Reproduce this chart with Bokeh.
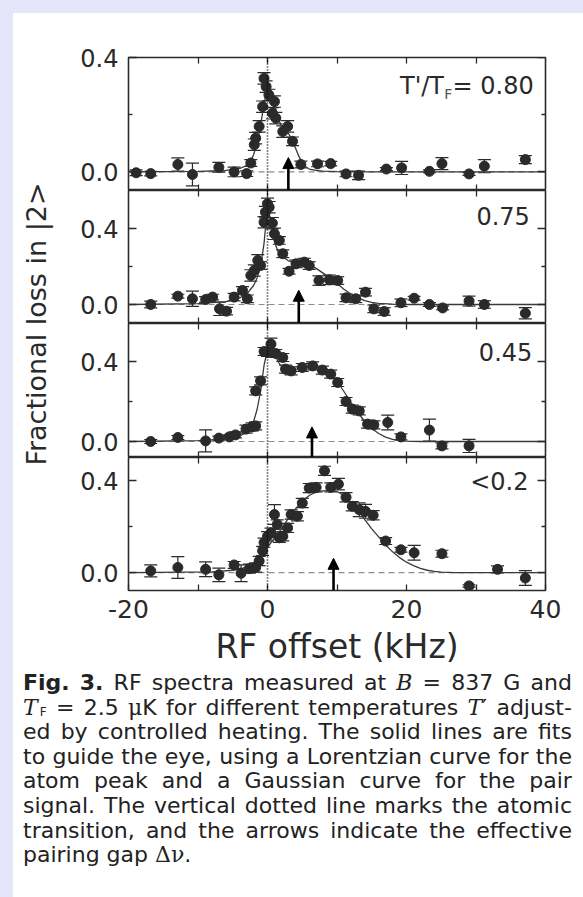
from bokeh.plotting import figure
from bokeh.layouts import column, row
from bokeh.models import (ColumnDataSource, Range1d, LinearAxis, FixedTicker,
                          PrintfTickFormatter, Whisker, TeeHead, Span, Arrow,
                          NormalHead, Label, Div)
from bokeh.embed import file_html
from bokeh.resources import INLINE

FONT = "DejaVu Sans"
INK = "#2a2a2a"

# ---------------------------------------------------------------- data
# RF offset in kHz, fractional loss in |2>, and one-sigma error
p1_x = [-18.9, -16.8, -12.9, -10.8, -7.0, -4.8, -3.0, -2.4, -1.9, -1.7, -1.2, -0.7,
        -0.5, -0.2, 0.2, 0.7, 1.0, 1.2, 2.2, 2.9, 3.6, 4.8, 7.2, 9.1, 11.3, 13.1,
        17.1, 19.3, 23.3, 25.1, 29.0, 31.2, 37.1]
p1_y = [-0.003, -0.006, 0.026, -0.009, 0.016, 0.0, -0.006, 0.031, 0.095, 0.118, 0.159,
        0.228, 0.327, 0.298, 0.269, 0.205, 0.246, 0.188, 0.141, 0.159, 0.107, 0.026,
        0.028, 0.029, -0.007, -0.012, 0.01, 0.014, 0.002, 0.029, -0.007, 0.02, 0.043]
p1_err = [0.01, 0.008, 0.023, 0.04, 0.017, 0.017, 0.01, 0.012, 0.02, 0.02, 0.02, 0.02,
          0.02, 0.02, 0.02, 0.02, 0.02, 0.02, 0.02, 0.02, 0.015, 0.012, 0.01, 0.008,
          0.01, 0.015, 0.005, 0.023, 0.005, 0.021, 0.005, 0.023, 0.014]

p2_x = [-16.8, -12.9, -10.8, -8.9, -7.9, -6.9, -5.9, -4.8, -3.6, -2.9, -2.4, -1.9, -1.4,
        -1.0, -0.5, -0.3, 0.0, 0.24, 0.7, 1.0, 1.7, 2.2, 3.1, 4.1, 5.3, 6.0, 7.4, 8.9,
        10.1, 11.3, 12.7, 14.1, 15.3, 16.8, 19.2, 21.1, 23.3, 25.2, 29.0, 31.2, 37.1]
p2_y = [0.0, 0.044, 0.03, 0.026, 0.039, -0.023, -0.035, 0.039, 0.074, 0.03, 0.153, 0.179,
        0.232, 0.205, 0.433, 0.486, 0.53, 0.512, 0.428, 0.372, 0.337, 0.267, 0.175, 0.214,
        0.223, 0.205, 0.126, 0.13, 0.126, 0.035, 0.03, 0.065, -0.023, -0.037, 0.009,
        0.033, 0.0, -0.018, 0.018, 0.0, -0.046]
p2_err = [0.018, 0.01, 0.04, 0.015, 0.015, 0.035, 0.02, 0.02, 0.02, 0.02, 0.03, 0.03,
          0.03, 0.02, 0.03, 0.03, 0.03, 0.03, 0.03, 0.03, 0.02, 0.02, 0.015, 0.02,
          0.02, 0.02, 0.025, 0.025, 0.02, 0.02, 0.02, 0.02, 0.02, 0.02, 0.02, 0.01,
          0.01, 0.01, 0.026, 0.02, 0.03]

p3_x = [-16.8, -12.9, -8.9, -7.0, -5.5, -4.6, -3.1, -2.2, -1.7, -1.7, -1.0, -0.5, 0.0,
        0.5, 1.2, 2.2, 2.6, 3.4, 5.0, 6.5, 7.9, 9.1, 10.1, 11.3, 12.2, 13.2, 14.4, 15.3,
        17.3, 19.2, 23.3, 25.1, 29.0]
p3_y = [0.0, 0.02, 0.003, 0.017, 0.023, 0.033, 0.062, 0.073, 0.078, 0.253, 0.303, 0.45,
        0.445, 0.487, 0.44, 0.42, 0.362, 0.353, 0.37, 0.378, 0.357, 0.337, 0.295, 0.2,
        0.162, 0.153, 0.087, 0.083, 0.095, 0.023, 0.057, -0.022, -0.022]
p3_err = [0.01, 0.01, 0.055, 0.01, 0.01, 0.015, 0.02, 0.02, 0.02, 0.02, 0.02, 0.02, 0.02,
          0.03, 0.02, 0.02, 0.02, 0.02, 0.02, 0.02, 0.02, 0.02, 0.02, 0.02, 0.02, 0.02,
          0.02, 0.02, 0.037, 0.015, 0.055, 0.015, 0.033]

p4_x = [-16.8, -12.9, -8.9, -7.0, -4.8, -3.8, -2.6, -1.7, -1.2, -0.7, -0.5, 0.0, 0.5,
        1.0, 1.4, 1.7, 2.2, 2.9, 3.4, 4.3, 5.0, 6.0, 7.0, 8.2, 9.1, 10.2, 11.3, 12.2,
        13.2, 14.1, 15.2, 17.0, 19.2, 21.1, 25.1, 29.0, 33.1, 37.1]
p4_y = [0.007, 0.022, 0.014, -0.01, 0.033, -0.003, 0.017, 0.022, 0.05, 0.094, 0.13,
        0.158, 0.173, 0.252, 0.209, 0.151, 0.158, 0.194, 0.252, 0.245, 0.302, 0.367,
        0.37, 0.442, 0.37, 0.384, 0.327, 0.288, 0.273, 0.266, 0.249, 0.137, 0.099,
        0.086, 0.082, -0.058, 0.014, -0.024]
p4_err = [0.026, 0.047, 0.032, 0.029, 0.015, 0.036, 0.02, 0.02, 0.02, 0.02, 0.02, 0.02,
          0.02, 0.043, 0.02, 0.02, 0.02, 0.02, 0.02, 0.02, 0.02, 0.02, 0.02, 0.02, 0.02,
          0.025, 0.02, 0.02, 0.03, 0.03, 0.02, 0.015, 0.01, 0.032, 0.015, 0.005, 0.015,
          0.032]

# fitted curves (Lorentzian atom peak + Gaussian pair signal)
fit1_x = [-20, -10, -6, -4, -3, -2.5, -2, -1.5, -1, -0.5, 0, 0.3, 0.6, 1, 1.5, 2, 2.5,
          3, 3.5, 4, 4.5, 5, 5.5, 6, 7, 8, 10, 15, 40]
fit1_y = [0, 0.002, 0.005, 0.012, 0.022, 0.035, 0.06, 0.1, 0.16, 0.24, 0.29, 0.295,
          0.28, 0.24, 0.19, 0.16, 0.145, 0.135, 0.115, 0.085, 0.055, 0.032, 0.018, 0.01,
          0.005, 0.003, 0.001, 0, 0]

fit2_x = [-20, -10, -6, -4, -3, -2, -1.5, -1, -0.5, -0.2, 0, 0.2, 0.5, 1, 1.5, 2, 3, 4,
          5, 6, 7, 8, 9, 10, 11, 12, 13, 14, 15, 16, 18, 20, 40]
fit2_y = [0.0, 0.005, 0.015, 0.035, 0.055, 0.1, 0.14, 0.2, 0.32, 0.44, 0.5, 0.49, 0.42,
          0.33, 0.28, 0.255, 0.23, 0.22, 0.215, 0.21, 0.19, 0.165, 0.14, 0.11, 0.08,
          0.055, 0.035, 0.02, 0.011, 0.006, 0.002, 0.0, 0.0]

fit3_x = [-20, -10, -6, -4, -3, -2, -1.5, -1, -0.5, 0, 0.3, 0.6, 1, 1.5, 2, 2.5, 3, 4,
          5, 6, 7, 8, 9, 10, 11, 12, 13, 14, 15, 16, 17, 18, 19, 20, 22, 40]
fit3_y = [0, 0.004, 0.012, 0.028, 0.045, 0.1, 0.16, 0.25, 0.38, 0.46, 0.48, 0.47, 0.44,
          0.4, 0.375, 0.362, 0.357, 0.36, 0.37, 0.376, 0.376, 0.365, 0.34, 0.3, 0.25,
          0.195, 0.145, 0.1, 0.065, 0.04, 0.022, 0.011, 0.005, 0.002, 0, 0]

fit4_x = [-20, -8, -5, -4, -3, -2, -1, 0, 1, 2, 3, 4, 5, 6, 7, 8, 9, 10, 11, 12, 13, 14,
          15, 16, 17, 18, 19, 20, 21, 22, 23, 24, 25, 27, 40]
fit4_y = [0, 0.003, 0.01, 0.015, 0.025, 0.042, 0.07, 0.11, 0.15, 0.19, 0.235, 0.275,
          0.31, 0.335, 0.35, 0.355, 0.356, 0.352, 0.335, 0.305, 0.27, 0.23, 0.19, 0.155,
          0.12, 0.09, 0.065, 0.045, 0.03, 0.018, 0.01, 0.005, 0.002, 0, 0]

# effective pairing gap (kHz) marked by the arrows, and the arrow tip height
gap_khz = [3.0, 4.5, 6.4, 9.5]
gap_tip = [0.05, 0.075, 0.073, 0.062]

temp_labels = ["0.80", "0.75", "0.45", "<0.2"]
x_ticks = [-20, 0, 20, 40]
x_minor = [-10, 10, 30]
y_ticks = [0.0, 0.4]
y_minor = [0.2]

# ------------------------------------------------------------ panels
# (y start, y end, figure height, top border, bottom border)
panels = [
    (-0.065, 0.40, 177, 44, 0),
    (-0.10, 0.60, 133, 0, 0),
    (-0.08, 0.59, 134, 0, 0),
    (-0.078, 0.50, 213, 0, 80),
]
series = [
    (p1_x, p1_y, p1_err, fit1_x, fit1_y),
    (p2_x, p2_y, p2_err, fit2_x, fit2_y),
    (p3_x, p3_y, p3_err, fit3_x, fit3_y),
    (p4_x, p4_y, p4_err, fit4_x, fit4_y),
]
# right-aligned label anchor (data x, data y of the text baseline) in each panel
label_pos = [(38.3, 0.300), (37.75, 0.465), (38.1, 0.447), (37.55, 0.392)]

x_range = Range1d(-20, 40)


def tick_axis(ticks, length, loc):
    """Inward tick marks without labels, pinned to a frame edge."""
    return LinearAxis(ticker=FixedTicker(ticks=[], minor_ticks=ticks),
                      fixed_location=loc, axis_line_color=None,
                      major_tick_in=0, major_tick_out=0,
                      minor_tick_in=length, minor_tick_out=0,
                      minor_tick_line_color=INK, minor_tick_line_width=1.3)


def text_label(x, y, text, size, color=INK):
    return Label(x=x, y=y, text=text, text_align="right", text_baseline="alphabetic",
                 text_font=FONT, text_font_size=size, text_color=color)


figs = []
for i, ((y0, y1, h, bt, bb), (xs, ys, es, fx, fy)) in enumerate(zip(panels, series)):
    p = figure(width=523, height=h, x_range=x_range, y_range=Range1d(y0, y1),
               output_backend="svg", toolbar_location=None,
               x_axis_location=None, y_axis_location=None,
               min_border_left=68, min_border_right=38,
               min_border_top=bt, min_border_bottom=bb,
               background_fill_color="white", border_fill_color="white")
    p.grid.visible = False
    p.outline_line_color = INK
    p.outline_line_width = 1.6

    # y axis with labels on the left
    ya = LinearAxis(ticker=FixedTicker(ticks=y_ticks, minor_ticks=y_minor),
                    formatter=PrintfTickFormatter(format="%.1f"),
                    axis_line_color=None,
                    major_tick_in=8, major_tick_out=0, minor_tick_in=4, minor_tick_out=0,
                    major_tick_line_color=INK, minor_tick_line_color=INK,
                    major_tick_line_width=1.3, minor_tick_line_width=1.3,
                    major_label_standoff=10, major_label_text_font=FONT,
                    major_label_text_font_size="24px", major_label_text_color=INK)
    p.add_layout(ya, "left")
    p.add_layout(tick_axis(y_ticks, 8, 40), "right")
    p.add_layout(tick_axis(y_minor, 4, 40), "right")
    p.add_layout(tick_axis(x_ticks[1:-1] + x_minor, 6, y1), "above")

    if i < 3:
        p.add_layout(tick_axis(x_ticks[1:-1] + x_minor, 6, y0), "below")
    else:
        xa = LinearAxis(ticker=FixedTicker(ticks=x_ticks, minor_ticks=x_minor),
                        formatter=PrintfTickFormatter(format="%d"),
                        axis_line_color=None,
                        major_tick_in=6, major_tick_out=0, minor_tick_in=6, minor_tick_out=0,
                        major_tick_line_color=INK, minor_tick_line_color=INK,
                        major_tick_line_width=1.3, minor_tick_line_width=1.3,
                        major_label_standoff=9, major_label_text_font=FONT,
                        major_label_text_font_size="25px", major_label_text_color=INK,
                        axis_label="RF offset (kHz)", axis_label_text_font=FONT,
                        axis_label_text_font_size="33px", axis_label_text_font_style="normal",
                        axis_label_text_color=INK, axis_label_standoff=6)
        p.add_layout(xa, "below")

    # zero baseline and atomic transition
    p.add_layout(Span(location=0, dimension="width", line_color="#8c8c8c",
                      line_dash="6 4", line_width=1.2, level="underlay"))
    p.add_layout(Span(location=0, dimension="height", line_color="black",
                      line_dash="1 2", line_width=1.6))

    p.line(fx, fy, line_color="#3a3a3a", line_width=1.3)

    src = ColumnDataSource(dict(x=xs, y=ys,
                                lo=[a - b for a, b in zip(ys, es)],
                                up=[a + b for a, b in zip(ys, es)]))
    p.add_layout(Whisker(source=src, base="x", lower="lo", upper="up",
                         line_color=INK, line_width=1.2,
                         lower_head=TeeHead(size=13, line_color=INK, line_width=1.2),
                         upper_head=TeeHead(size=13, line_color=INK, line_width=1.2)))
    p.scatter("x", "y", source=src, size=10, fill_color=INK, line_color=INK)

    p.add_layout(Arrow(x_start=gap_khz[i], y_start=y0, x_end=gap_khz[i], y_end=gap_tip[i],
                       line_color="black", line_width=2.6,
                       end=NormalHead(size=11, fill_color="black", line_color="black",
                                      line_width=1)))

    lx, ly = label_pos[i]
    if i == 0:
        p.add_layout(text_label(lx, ly, "= " + temp_labels[0], "24px"))
        p.add_layout(text_label(lx - 11.7, ly - 0.028, "F", "14px", "#555555"))
        p.add_layout(text_label(lx - 12.9, ly, "T'/T", "24px"))
    else:
        p.add_layout(text_label(lx, ly, temp_labels[i], "24px"))
    figs.append(p)

total_h = sum(pp[2] for pp in panels)

# vertical axis title spanning the panel stack
yt = figure(width=47, height=total_h, x_range=Range1d(0, 47), y_range=Range1d(0, total_h),
            output_backend="svg", toolbar_location=None,
            x_axis_location=None, y_axis_location=None, min_border=0,
            outline_line_color=None, border_fill_color="white",
            background_fill_color="white")
yt.grid.visible = False
yt.add_layout(Label(x=23, y=total_h - 310.5, text="Fractional loss in |2>", angle=90,
                    angle_units="deg", text_align="center", text_baseline="middle",
                    text_font=FONT, text_font_size="27px", text_color=INK))

# ------------------------------------------------------------ caption
SERIF_I = '<i style="font-family:\'DejaVu Serif\'">{}</i>'
caption_lines = [
    ["<b>Fig.</b>", "<b>3.</b>", "RF", "spectra", "measured", "at", SERIF_I.format("B"),
     "=", "837", "G", "and"],
    [SERIF_I.format("T")
     + '<span style="font-size:12px;line-height:0;position:relative;top:1px;'
       'margin-left:2px">F</span>',
     "=", "2.5", '<span style="font-family:\'DejaVu Serif\'">\u03bc</span>K', "for",
     "different", "temperatures", SERIF_I.format("T") + "\u2032", "adjust-"],
    ["ed", "by", "controlled", "heating.", "The", "solid", "lines", "are", "fits"],
    ["to", "guide", "the", "eye,", "using", "a", "Lorentzian", "curve", "for", "the"],
    ["atom", "peak", "and", "a", "Gaussian", "curve", "for", "the", "pair"],
    ["signal.", "The", "vertical", "dotted", "line", "marks", "the", "atomic"],
    ["transition,", "and", "the", "arrows", "indicate", "the", "effective"],
]
caption_last = 'pairing gap <span style="font-family:\'DejaVu Serif\'">\u0394\u03bd</span>.'

rows_html = "".join(
    '<div style="display:flex;justify-content:space-between;column-gap:4px;'
    'white-space:nowrap;height:24.6px">'
    + "".join("<span>{}</span>".format(w) for w in words) + "</div>"
    for words in caption_lines)
rows_html += '<div style="white-space:nowrap;height:24.6px">' + caption_last + "</div>"

cap_h = 897 - 13 - total_h
caption = Div(text='<div style="width:549px;margin-left:5px;margin-top:-4px">'
              + rows_html + "</div>",
              width=570, height=cap_h,
              styles={"background-color": "white", "font-family": FONT,
                      "font-size": "22px", "line-height": "24.6px", "color": "#222222"})

inner = column(row(yt, column(*figs, spacing=0), spacing=0), caption, spacing=0,
               width=570, height=897 - 13, margin=(13, 0, 0, 13),
               styles={"background-color": "white"})
page = column(inner, width=583, height=897, styles={"background-color": "#E6E6FA"})

open("out.html", "w").write(file_html(page, INLINE))
